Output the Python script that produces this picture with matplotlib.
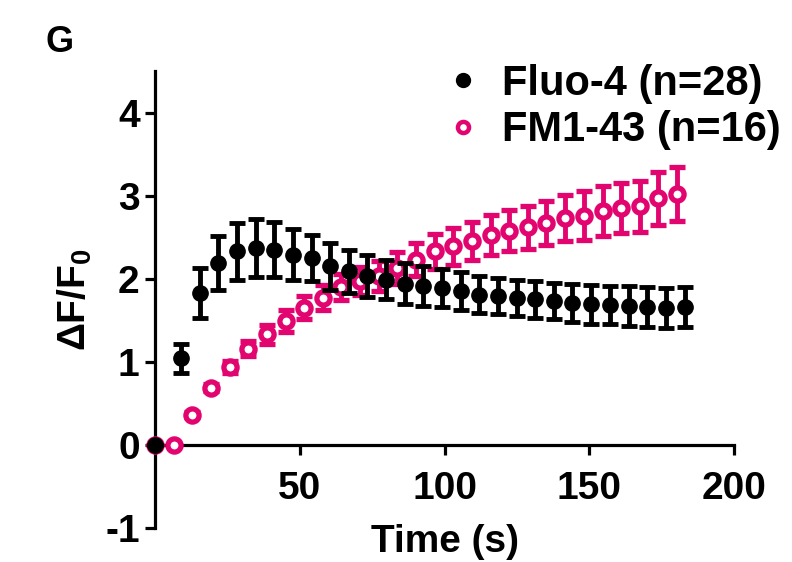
import matplotlib.pyplot as plt
from matplotlib.lines import Line2D

plt.rcParams['font.family'] = ['Liberation Sans', 'DejaVu Sans']
plt.rcParams['font.weight'] = 'bold'
plt.rcParams['axes.unicode_minus'] = False
plt.rcParams['mathtext.fontset'] = 'custom'
plt.rcParams['mathtext.rm'] = 'Liberation Sans:bold'
plt.rcParams['mathtext.it'] = 'Liberation Sans:bold'
plt.rcParams['mathtext.bf'] = 'Liberation Sans:bold'

# Fluo-4 (black)
fluo_t = [0, 9.0, 15.4, 21.9, 28.3, 34.8, 41.2, 47.6, 54.1, 60.5, 67.0, 73.4, 79.8, 86.3, 92.7,
          99.2, 105.6, 112.0, 118.5, 124.9, 131.4, 137.8, 144.2, 150.7, 157.1, 163.6, 170.0, 176.4, 182.9]
fluo_y = [0, 1.04, 1.83, 2.19, 2.33, 2.37, 2.35, 2.29, 2.25, 2.15, 2.09, 2.03, 1.99, 1.94, 1.91,
          1.89, 1.85, 1.81, 1.79, 1.77, 1.75, 1.73, 1.71, 1.69, 1.68, 1.67, 1.66, 1.65, 1.66]
fluo_err = [0, 0.17, 0.30, 0.32, 0.34, 0.35, 0.33, 0.31, 0.28, 0.28, 0.26, 0.25, 0.24, 0.25, 0.24,
            0.23, 0.23, 0.22, 0.22, 0.22, 0.22, 0.22, 0.23, 0.23, 0.23, 0.24, 0.24, 0.24, 0.24]

# FM1-43 (pink)
fm_t = [0, 6.4, 12.9, 19.3, 25.8, 32.2, 38.6, 45.1, 51.5, 58.0, 64.4, 70.8, 77.3, 83.7, 90.2,
        96.6, 103.0, 109.5, 115.9, 122.4, 128.8, 135.2, 141.7, 148.1, 154.6, 161.0, 167.4, 173.9, 180.3]
fm_y = [0, 0.0, 0.36, 0.69, 0.94, 1.16, 1.33, 1.49, 1.65, 1.77, 1.90, 1.97, 2.03, 2.13, 2.23,
        2.33, 2.39, 2.45, 2.53, 2.58, 2.62, 2.67, 2.73, 2.76, 2.81, 2.85, 2.87, 2.97, 3.02]
fm_err = [0, 0, 0.03, 0.04, 0.07, 0.09, 0.11, 0.13, 0.14, 0.15, 0.16, 0.17, 0.18, 0.19, 0.20,
          0.21, 0.22, 0.23, 0.24, 0.25, 0.26, 0.27, 0.28, 0.29, 0.30, 0.30, 0.31, 0.32, 0.32]

pink = '#E2046F'

fig = plt.figure(figsize=(7.92, 5.62), dpi=100)
ax = fig.add_axes([0.1957, 0.0605, 0.7311, 0.8132])

ax.errorbar(fm_t, fm_y, yerr=fm_err, fmt='o', color=pink, mfc='white', mec=pink,
            ms=9.5, mew=3.8, elinewidth=3.5, capsize=6, capthick=3.5, clip_on=False, zorder=3)
ax.errorbar(fluo_t, fluo_y, yerr=fluo_err, fmt='o', color='black', ms=11,
            elinewidth=3.5, capsize=6, capthick=3.5, clip_on=False, zorder=4)

ax.set_xlim(0, 200)
ax.set_ylim(-1, 4.5)
ax.spines['top'].set_visible(False)
ax.spines['right'].set_visible(False)
ax.spines['bottom'].set_position(('data', 0))
for s in ['left', 'bottom']:
    ax.spines[s].set_linewidth(2.3)
ax.set_xticks([50, 100, 150, 200])
ax.set_yticks([-1, 0, 1, 2, 3, 4])
ax.tick_params(axis='both', width=2.3, length=7, labelsize=28)
ax.tick_params(axis='x', pad=12)
ax.tick_params(axis='y', pad=4)

ax.set_xlabel('Time (s)', fontsize=28, fontweight='bold')
ax.xaxis.set_label_coords(0.5, 0.008, transform=ax.transAxes)
ax.xaxis.label.set_va('top')
ax.set_ylabel(r'$\Delta$F/F$_0$', fontsize=28, fontweight='bold', labelpad=8)

fig.text(0.058, 0.955, 'G', fontsize=26, fontweight='bold', va='top', ha='left')

handles = [Line2D([], [], ls='none', marker='o', color='black', ms=10),
           Line2D([], [], ls='none', marker='o', color=pink, mfc='white', mec=pink, ms=8, mew=3.2)]
ax.legend(handles, ['Fluo-4 (n=28)', 'FM1-43 (n=16)'], loc='upper right',
          bbox_to_anchor=(781 / 792, 1 - 64 / 562), bbox_transform=fig.transFigure,
          frameon=False, fontsize=30, handlelength=1.0, handletextpad=0.45,
          labelspacing=0.15, borderaxespad=0, borderpad=0)

plt.savefig('out.png', dpi=100)
